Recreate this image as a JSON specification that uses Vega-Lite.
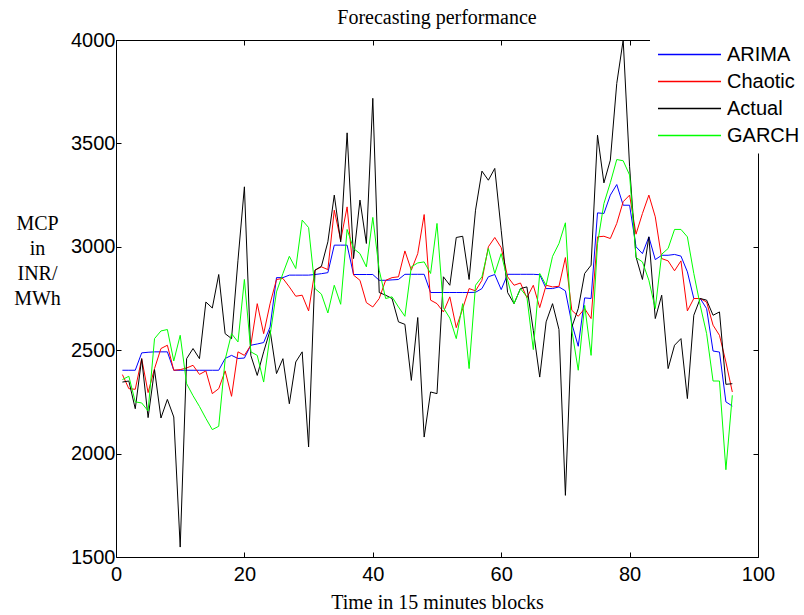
{
  "$schema": "https://vega.github.io/schema/vega-lite/v6.json",
  "width": 642,
  "height": 517,
  "autosize": {"type": "none"},
  "padding": {"left": 116, "top": 40, "right": 46, "bottom": 58},
  "background": "white",
  "title": {"text": "Forecasting performance", "font": "Liberation Serif", "fontSize": 20, "fontWeight": "normal", "color": "black", "anchor": "middle", "frame": "group", "baseline": "alphabetic", "offset": 14, "dy": 28},
  "config": {
    "view": {"stroke": null},
    "axis": {"domainColor": "black", "domainWidth": 1, "tickColor": "black", "tickWidth": 1, "grid": false, "labelColor": "black", "titleColor": "black", "labelFont": "Liberation Sans", "labelFontSize": 20, "titleFont": "Liberation Serif", "titleFontSize": 20, "titleFontWeight": "normal"}
  },
  "data": {"values": [
    {"t":1,"ARIMA":2403,"Chaotic":2382,"Actual":2346,"GARCH":2358},
    {"t":2,"ARIMA":2403,"Chaotic":2314,"Actual":2351,"GARCH":2374},
    {"t":3,"ARIMA":2403,"Chaotic":2311,"Actual":2217,"GARCH":2250},
    {"t":4,"ARIMA":2487,"Chaotic":2459,"Actual":2459,"GARCH":2245},
    {"t":5,"ARIMA":2490,"Chaotic":2295,"Actual":2174,"GARCH":2206},
    {"t":6,"ARIMA":2492,"Chaotic":2411,"Actual":2406,"GARCH":2556},
    {"t":7,"ARIMA":2492,"Chaotic":2508,"Actual":2172,"GARCH":2593},
    {"t":8,"ARIMA":2492,"Chaotic":2524,"Actual":2262,"GARCH":2600},
    {"t":9,"ARIMA":2403,"Chaotic":2403,"Actual":2177,"GARCH":2448},
    {"t":10,"ARIMA":2403,"Chaotic":2406,"Actual":1548,"GARCH":2572},
    {"t":11,"ARIMA":2403,"Chaotic":2414,"Actual":2459,"GARCH":2338},
    {"t":12,"ARIMA":2403,"Chaotic":2427,"Actual":2508,"GARCH":2280},
    {"t":13,"ARIMA":2403,"Chaotic":2383,"Actual":2459,"GARCH":2228},
    {"t":14,"ARIMA":2403,"Chaotic":2400,"Actual":2733,"GARCH":2170},
    {"t":15,"ARIMA":2403,"Chaotic":2290,"Actual":2704,"GARCH":2116},
    {"t":16,"ARIMA":2403,"Chaotic":2314,"Actual":2866,"GARCH":2132},
    {"t":17,"ARIMA":2460,"Chaotic":2400,"Actual":2580,"GARCH":2454},
    {"t":18,"ARIMA":2475,"Chaotic":2277,"Actual":2556,"GARCH":2580},
    {"t":19,"ARIMA":2460,"Chaotic":2492,"Actual":2935,"GARCH":2540},
    {"t":20,"ARIMA":2462,"Chaotic":2475,"Actual":3290,"GARCH":2842},
    {"t":21,"ARIMA":2524,"Chaotic":2524,"Actual":2475,"GARCH":2492},
    {"t":22,"ARIMA":2530,"Chaotic":2725,"Actual":2378,"GARCH":2475},
    {"t":23,"ARIMA":2537,"Chaotic":2580,"Actual":2492,"GARCH":2346},
    {"t":24,"ARIMA":2612,"Chaotic":2725,"Actual":2596,"GARCH":2572},
    {"t":25,"ARIMA":2851,"Chaotic":2842,"Actual":2387,"GARCH":2782},
    {"t":26,"ARIMA":2851,"Chaotic":2847,"Actual":2459,"GARCH":2871},
    {"t":27,"ARIMA":2863,"Chaotic":2806,"Actual":2241,"GARCH":2954},
    {"t":28,"ARIMA":2863,"Chaotic":2761,"Actual":2443,"GARCH":2895},
    {"t":29,"ARIMA":2863,"Chaotic":2766,"Actual":2492,"GARCH":3129},
    {"t":30,"ARIMA":2863,"Chaotic":2690,"Actual":2032,"GARCH":3093},
    {"t":31,"ARIMA":2866,"Chaotic":2887,"Actual":2887,"GARCH":2798},
    {"t":32,"ARIMA":2870,"Chaotic":2903,"Actual":2906,"GARCH":2771},
    {"t":33,"ARIMA":2875,"Chaotic":2890,"Actual":3024,"GARCH":2680},
    {"t":34,"ARIMA":3008,"Chaotic":3177,"Actual":3250,"GARCH":2814},
    {"t":35,"ARIMA":3008,"Chaotic":3032,"Actual":3024,"GARCH":2722},
    {"t":36,"ARIMA":3008,"Chaotic":3193,"Actual":3551,"GARCH":3084},
    {"t":37,"ARIMA":2866,"Chaotic":2863,"Actual":2943,"GARCH":2992},
    {"t":38,"ARIMA":2866,"Chaotic":2838,"Actual":3226,"GARCH":2967},
    {"t":39,"ARIMA":2866,"Chaotic":2730,"Actual":3016,"GARCH":2903},
    {"t":40,"ARIMA":2866,"Chaotic":2709,"Actual":3718,"GARCH":3142},
    {"t":41,"ARIMA":2838,"Chaotic":2750,"Actual":2779,"GARCH":2887},
    {"t":42,"ARIMA":2838,"Chaotic":2838,"Actual":2766,"GARCH":2750},
    {"t":43,"ARIMA":2840,"Chaotic":2851,"Actual":2750,"GARCH":2758},
    {"t":44,"ARIMA":2842,"Chaotic":2855,"Actual":2637,"GARCH":2709},
    {"t":45,"ARIMA":2867,"Chaotic":2980,"Actual":2625,"GARCH":2664},
    {"t":46,"ARIMA":2867,"Chaotic":2887,"Actual":2354,"GARCH":2903},
    {"t":47,"ARIMA":2867,"Chaotic":2967,"Actual":2658,"GARCH":2922},
    {"t":48,"ARIMA":2867,"Chaotic":3156,"Actual":2080,"GARCH":2927},
    {"t":49,"ARIMA":2779,"Chaotic":2742,"Actual":2298,"GARCH":2871},
    {"t":50,"ARIMA":2779,"Chaotic":2725,"Actual":2290,"GARCH":3113},
    {"t":51,"ARIMA":2779,"Chaotic":2685,"Actual":2855,"GARCH":2705},
    {"t":52,"ARIMA":2779,"Chaotic":2758,"Actual":2814,"GARCH":2655},
    {"t":53,"ARIMA":2779,"Chaotic":2609,"Actual":3045,"GARCH":2556},
    {"t":54,"ARIMA":2779,"Chaotic":2701,"Actual":3051,"GARCH":2725},
    {"t":55,"ARIMA":2779,"Chaotic":2798,"Actual":2842,"GARCH":2411},
    {"t":56,"ARIMA":2780,"Chaotic":2787,"Actual":3177,"GARCH":2814},
    {"t":57,"ARIMA":2798,"Chaotic":2838,"Actual":3366,"GARCH":2855},
    {"t":58,"ARIMA":2855,"Chaotic":3000,"Actual":3322,"GARCH":2992},
    {"t":59,"ARIMA":2866,"Chaotic":3045,"Actual":3379,"GARCH":2871},
    {"t":60,"ARIMA":2793,"Chaotic":2996,"Actual":3080,"GARCH":2967},
    {"t":61,"ARIMA":2867,"Chaotic":2855,"Actual":2779,"GARCH":2838},
    {"t":62,"ARIMA":2867,"Chaotic":2814,"Actual":2725,"GARCH":2725},
    {"t":63,"ARIMA":2867,"Chaotic":2825,"Actual":2798,"GARCH":2798},
    {"t":64,"ARIMA":2867,"Chaotic":2754,"Actual":2806,"GARCH":2758},
    {"t":65,"ARIMA":2867,"Chaotic":2814,"Actual":2596,"GARCH":2503},
    {"t":66,"ARIMA":2865,"Chaotic":2706,"Actual":2370,"GARCH":2871},
    {"t":67,"ARIMA":2798,"Chaotic":2814,"Actual":2637,"GARCH":2814},
    {"t":68,"ARIMA":2798,"Chaotic":2806,"Actual":2725,"GARCH":2954},
    {"t":69,"ARIMA":2806,"Chaotic":2809,"Actual":2600,"GARCH":3016},
    {"t":70,"ARIMA":2787,"Chaotic":2948,"Actual":1798,"GARCH":3116},
    {"t":71,"ARIMA":2629,"Chaotic":2693,"Actual":2612,"GARCH":2596},
    {"t":72,"ARIMA":2519,"Chaotic":2664,"Actual":2701,"GARCH":2403},
    {"t":73,"ARIMA":2753,"Chaotic":2701,"Actual":2871,"GARCH":2717},
    {"t":74,"ARIMA":2750,"Chaotic":2653,"Actual":2911,"GARCH":2475},
    {"t":75,"ARIMA":3164,"Chaotic":3048,"Actual":3540,"GARCH":3016},
    {"t":76,"ARIMA":3161,"Chaotic":3051,"Actual":3309,"GARCH":3209},
    {"t":77,"ARIMA":3250,"Chaotic":3040,"Actual":3419,"GARCH":3310},
    {"t":78,"ARIMA":3301,"Chaotic":3113,"Actual":3790,"GARCH":3422},
    {"t":79,"ARIMA":3201,"Chaotic":3218,"Actual":4000,"GARCH":3416},
    {"t":80,"ARIMA":3201,"Chaotic":3250,"Actual":3387,"GARCH":3347},
    {"t":81,"ARIMA":3000,"Chaotic":3061,"Actual":2951,"GARCH":2948},
    {"t":82,"ARIMA":2967,"Chaotic":3161,"Actual":2842,"GARCH":2927},
    {"t":83,"ARIMA":3048,"Chaotic":3250,"Actual":3048,"GARCH":2838},
    {"t":84,"ARIMA":2938,"Chaotic":3145,"Actual":2653,"GARCH":2701},
    {"t":85,"ARIMA":2959,"Chaotic":2943,"Actual":2766,"GARCH":2964},
    {"t":86,"ARIMA":2959,"Chaotic":2932,"Actual":2411,"GARCH":2992},
    {"t":87,"ARIMA":2963,"Chaotic":2884,"Actual":2524,"GARCH":3084},
    {"t":88,"ARIMA":2955,"Chaotic":2932,"Actual":2556,"GARCH":3084},
    {"t":89,"ARIMA":2879,"Chaotic":2690,"Actual":2266,"GARCH":3048},
    {"t":90,"ARIMA":2750,"Chaotic":2750,"Actual":2669,"GARCH":2871},
    {"t":91,"ARIMA":2750,"Chaotic":2750,"Actual":2750,"GARCH":2717},
    {"t":92,"ARIMA":2701,"Chaotic":2733,"Actual":2742,"GARCH":2580},
    {"t":93,"ARIMA":2496,"Chaotic":2621,"Actual":2669,"GARCH":2351},
    {"t":94,"ARIMA":2491,"Chaotic":2572,"Actual":2685,"GARCH":2351},
    {"t":95,"ARIMA":2250,"Chaotic":2443,"Actual":2335,"GARCH":1922},
    {"t":96,"ARIMA":2230,"Chaotic":2298,"Actual":2338,"GARCH":2282}
  ]},
  "transform": [{"fold": ["ARIMA", "Chaotic", "Actual", "GARCH"], "as": ["series", "value"]}],
  "layer": [
    {
      "mark": {"type": "line", "strokeWidth": 1, "clip": true},
      "encoding": {
        "x": {"field": "t", "type": "quantitative", "scale": {"domain": [0, 100], "nice": false, "zero": false},
              "axis": {"orient": "bottom", "values": [0, 20, 40, 60, 80, 100], "format": "d", "tickSize": -5, "labelPadding": 12, "labelFlush": false, "title": "Time in 15 minutes blocks", "titleBaseline": "middle", "titleY": 45, "titleX": 321}},
        "y": {"field": "value", "type": "quantitative", "scale": {"domain": [1500, 4000], "nice": false, "zero": false},
              "axis": {"orient": "left", "values": [1500, 2000, 2500, 3000, 3500, 4000], "format": "d", "tickSize": -5, "labelPadding": 6, "labelFlush": false, "title": ["MCP", "in", "INR/", "MWh"], "titleAngle": 0, "titleAlign": "center", "titleBaseline": "middle", "titleLineHeight": 25, "titleX": -79, "titleY": 183}},
        "color": {"field": "series", "type": "nominal",
                  "scale": {"domain": ["ARIMA", "Chaotic", "Actual", "GARCH"], "range": ["#0000ff", "#ff0000", "#000000", "#00ff00"]},
                  "legend": {"title": null, "orient": "none", "legendX": 534, "legendY": -3.5, "padding": 7, "fillColor": "white", "strokeColor": null, "symbolType": "stroke", "symbolSize": 3969, "symbolStrokeWidth": 1.5, "clipHeight": 22, "labelFont": "Liberation Sans", "labelFontSize": 20, "labelColor": "black", "labelOffset": 5, "rowPadding": 5, "zindex": 5}}
      }
    },
    {
      "mark": {"type": "line", "strokeOpacity": 0},
      "encoding": {
        "x": {"field": "t", "type": "quantitative", "axis": {"orient": "top", "values": [0, 20, 40, 60, 80, 100], "tickSize": -5, "labels": false, "title": null}},
        "y": {"field": "value", "type": "quantitative", "axis": {"orient": "right", "values": [1500, 2000, 2500, 3000, 3500, 4000], "tickSize": -5, "labels": false, "title": null}},
        "detail": {"field": "series", "type": "nominal"}
      }
    }
  ],
  "resolve": {"axis": {"x": "independent", "y": "independent"}}
}
